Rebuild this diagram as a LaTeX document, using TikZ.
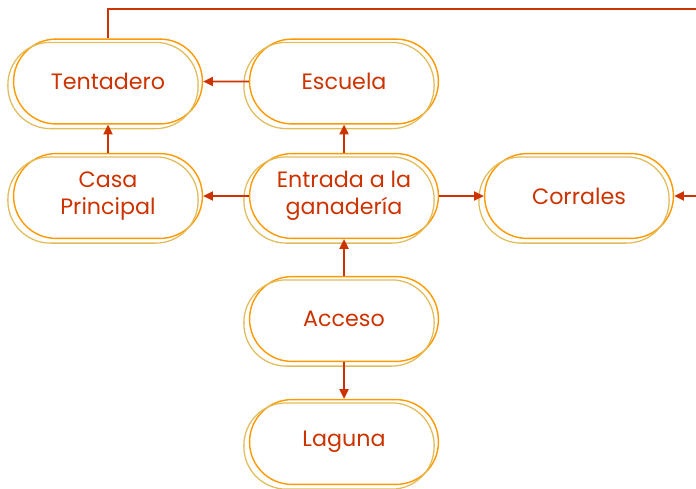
\documentclass[tikz,border=0pt]{standalone}
\usepackage{fontspec}
\setmainfont{Poppins}
\usetikzlibrary{arrows.meta,shapes.misc,calc}
\definecolor{rojo}{HTML}{CC3300}
\definecolor{naranja}{HTML}{FF9900}
\definecolor{ocre}{HTML}{E0BC5C}
\tikzset{
	lugar/.style={rounded rectangle,draw=naranja,line width=1pt,minimum width=4.72cm,minimum height=2.12cm,inner sep=0pt,
		text=rojo,align=center,font=\fontsize{15.8}{19}\selectfont},
	sombra/.style={draw=ocre,line width=0.9pt,rounded corners=1.06cm},
	flecha/.style={draw=rojo,line width=1.3pt,->}
}
\begin{document}
\begin{tikzpicture}[x=0.025cm,y=-0.025cm,>={Triangle[length=7pt,width=6.5pt]}]
	\useasboundingbox (0,0) rectangle (696,488);
	\node[lugar] (tent) at (108,81.5) {Tentadero};
	\node[lugar] (esc) at (344,81.5) {Escuela};
	\node[lugar] (casa) at (108,196) {Casa\\Principal};
	\node[lugar] (ent) at (344,196) {Entrada a la\\ganadería};
	\node[lugar] (corr) at (579,196) {Corrales};
	\node[lugar] (acc) at (344,319) {Acceso};
	\node[lugar] (lag) at (344,442) {Laguna};
	\foreach \n in {tent,esc,casa,ent,corr,acc,lag}
		\draw[sombra] ($(\n.west |- \n.south)+(-5,4)$) rectangle ($(\n.east |- \n.north)+(-5,4)$);
	\coordinate (arriba) at (696,9);
	\coordinate (derecha) at (696,196);
	\draw[flecha] (esc) -- (tent);
	\draw[flecha] (ent) -- (esc);
	\draw[flecha] (casa) -- (tent);
	\draw[flecha] (ent) -- (casa);
	\draw[flecha] (ent) -- (corr);
	\draw[flecha] (acc) -- (ent);
	\draw[flecha] (acc) -- (lag);
	\draw[flecha,-] (tent.north) |- (arriba);
	\draw[flecha] (derecha) -- (corr);
\end{tikzpicture}
\end{document}
